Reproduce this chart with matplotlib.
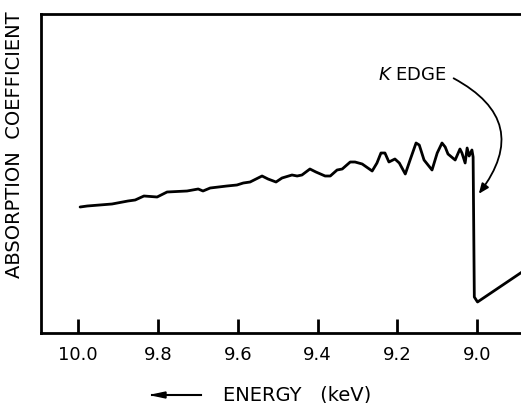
import numpy as np
import matplotlib
matplotlib.use("Agg")
import matplotlib.pyplot as plt

# absorption curve (energy in keV, absorption in arbitrary units)
energy = [9.995, 9.977, 9.915, 9.875, 9.857, 9.835, 9.802, 9.777, 9.727, 9.699,
          9.687, 9.669, 9.627, 9.602, 9.586, 9.569, 9.539, 9.524, 9.504, 9.489,
          9.464, 9.451, 9.439, 9.419, 9.404, 9.381, 9.368, 9.351, 9.338, 9.318,
          9.306, 9.288, 9.263, 9.251, 9.241, 9.231, 9.221, 9.206, 9.195, 9.180,
          9.168, 9.153, 9.145, 9.133, 9.113, 9.100, 9.088, 9.080, 9.073, 9.055,
          9.043, 9.038, 9.030, 9.025, 9.020, 9.013, 9.010, 9.007, 8.999, 8.880]
absorb = [126, 127, 129, 132, 133, 137, 136, 141, 142, 144,
          142, 145, 147, 148, 150, 151, 157, 154, 151, 155,
          158, 157, 158, 164, 161, 157, 157, 163, 164, 171,
          171, 169, 162, 170, 180, 180, 171, 174, 170, 159,
          173, 190, 188, 173, 163, 180, 190, 186, 179, 173,
          184, 180, 170, 185, 177, 183, 176, 36, 31, 63]

xticks = [10.0, 9.8, 9.6, 9.4, 9.2, 9.0]
xticklabels = ["10.0", "9.8", "9.6", "9.4", "9.2", "9.0"]

plt.rcParams['font.family'] = ['DejaVu Sans']

W, H = 521, 403
fig = plt.figure(figsize=(W / 100, H / 100), dpi=100)
ax = fig.add_axes([41 / W, (H - 333) / H, (W - 41) / W, (333 - 14) / H])

ax.plot(energy, absorb, color="black", lw=2, solid_joinstyle="round",
        solid_capstyle="round")

ax.set_xlim(10.093, 8.890)
ax.set_ylim(0, 319)
ax.set_xticks(xticks)
ax.set_xticklabels(xticklabels)
ax.set_yticks([])
ax.tick_params(axis="x", direction="in", length=10, width=2, labelsize=13, pad=9)
for side in ["left", "top", "bottom"]:
    ax.spines[side].set_linewidth(2)
ax.spines["right"].set_visible(False)

# K edge label with curved arrow
ax.text(9.075, 258, r"$\mathit{K}$ EDGE", fontsize=13, ha="right", va="center")
ax.annotate("", xy=(9.0, 137), xytext=(9.065, 256),
            arrowprops=dict(arrowstyle="-|>,head_length=0.6,head_width=0.25",
                            color="black", lw=1.3,
                            connectionstyle="arc3,rad=-0.6"))

fig.text(15 / W, 1 - 145 / H, "ABSORPTION  COEFFICIENT", rotation=90,
         fontsize=14, ha="center", va="center")
fig.text(297 / W, 1 - 395 / H, "ENERGY   (keV)", fontsize=14,
         ha="center", va="center")
fig.add_artist(plt.Line2D([152 / W, 201 / W], [1 - 395 / H, 1 - 395 / H],
                          color="black", lw=1.5))
fig.add_artist(plt.Polygon([[152 / W, 1 - 395 / H], [166 / W, 1 - 392 / H],
                            [166 / W, 1 - 398 / H]], closed=True, color="black"))

fig.savefig("out.png", dpi=100)
